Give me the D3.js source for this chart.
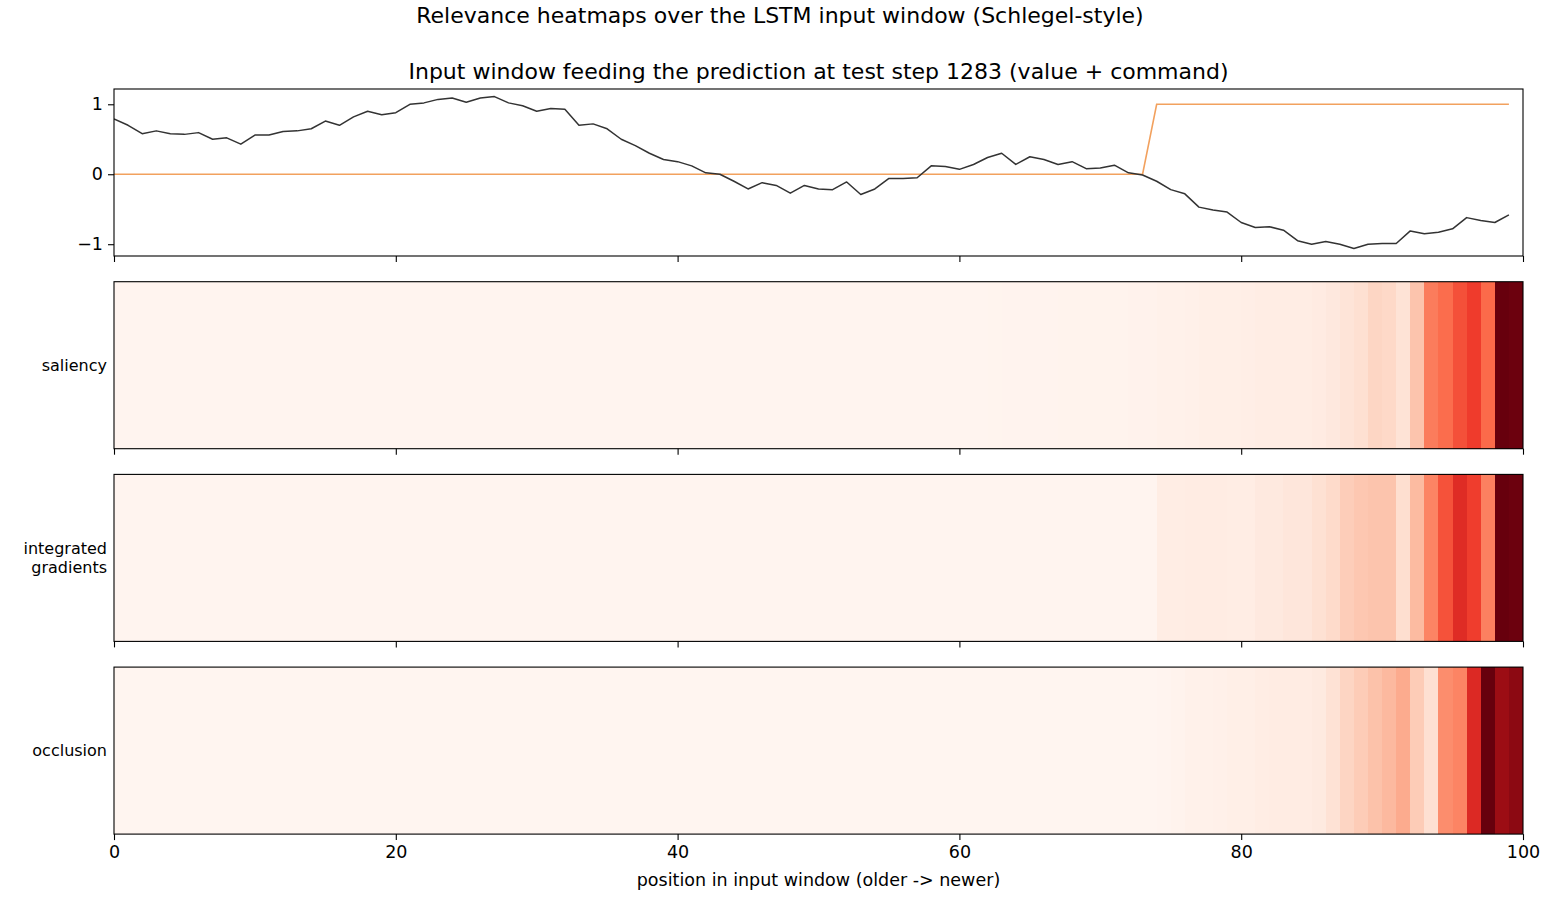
<!DOCTYPE html>
<html>
<head>
<meta charset="utf-8">
<script src="https://cdn.jsdelivr.net/npm/d3@7"></script>
<style>
  html, body { margin: 0; padding: 0; background: #ffffff; }
  text { font-family: "DejaVu Sans", sans-serif; fill: #000; }
</style>
</head>
<body>
<svg id="chart" width="1560" height="910"></svg>
<script>
// ---------------- data ----------------
const positions = d3.range(0, 100); // index labels 0..99 (window positions)
const xTicks = [0, 20, 40, 60, 80, 100];
const yTicksTop = [-1, 0, 1];

const valueSeries = [
  0.79,0.70,0.58,0.62,0.58,0.57,0.595,0.50,0.52,0.43,
  0.56,0.56,0.61,0.62,0.65,0.76,0.70,0.82,0.90,0.85,
  0.88,1.00,1.02,1.07,1.09,1.03,1.09,1.11,1.02,0.98,
  0.90,0.94,0.93,0.70,0.72,0.65,0.50,0.41,0.30,0.21,
  0.18,0.12,0.02,0.00,-0.10,-0.21,-0.12,-0.16,-0.27,-0.16,
  -0.21,-0.22,-0.11,-0.29,-0.21,-0.06,-0.06,-0.05,0.12,0.11,
  0.07,0.14,0.24,0.30,0.14,0.25,0.21,0.14,0.18,0.08,
  0.09,0.13,0.02,-0.01,-0.10,-0.22,-0.28,-0.47,-0.51,-0.54,
  -0.69,-0.76,-0.75,-0.80,-0.95,-1.00,-0.96,-1.00,-1.06,-1.00,
  -0.99,-0.99,-0.81,-0.85,-0.83,-0.78,-0.62,-0.66,-0.69,-0.58
];

const commandSeries = [
  0,0,0,0,0,0,0,0,0,0,
  0,0,0,0,0,0,0,0,0,0,
  0,0,0,0,0,0,0,0,0,0,
  0,0,0,0,0,0,0,0,0,0,
  0,0,0,0,0,0,0,0,0,0,
  0,0,0,0,0,0,0,0,0,0,
  0,0,0,0,0,0,0,0,0,0,
  0,0,0,0,1,1,1,1,1,1,
  1,1,1,1,1,1,1,1,1,1,
  1,1,1,1,1,1,1,1,1,1
];

const saliency = [
  0.003,0.003,0.003,0.003,0.003,0.003,0.003,0.003,0.003,0.003,
  0.003,0.003,0.003,0.003,0.003,0.003,0.003,0.003,0.003,0.003,
  0.003,0.003,0.003,0.003,0.003,0.003,0.003,0.003,0.003,0.003,
  0.004,0.004,0.004,0.004,0.004,0.004,0.004,0.004,0.004,0.004,
  0.004,0.004,0.004,0.004,0.004,0.004,0.004,0.004,0.004,0.004,
  0.005,0.005,0.005,0.005,0.005,0.005,0.005,0.005,0.005,0.005,
  0.006,0.006,0.007,0.009,0.009,0.010,0.010,0.011,0.011,0.012,
  0.012,0.013,0.015,0.018,0.024,0.024,0.030,0.036,0.036,0.038,
  0.040,0.048,0.048,0.048,0.050,0.060,0.077,0.100,0.125,0.160,
  0.150,0.107,0.220,0.445,0.490,0.570,0.625,0.500,1.000,0.990
];

const integratedGradients = [
  0.003,0.003,0.003,0.003,0.003,0.003,0.003,0.003,0.003,0.003,
  0.003,0.003,0.003,0.003,0.003,0.003,0.003,0.003,0.003,0.003,
  0.003,0.003,0.003,0.003,0.003,0.003,0.003,0.003,0.003,0.003,
  0.003,0.003,0.003,0.003,0.003,0.003,0.003,0.003,0.003,0.003,
  0.003,0.003,0.003,0.003,0.003,0.003,0.003,0.003,0.003,0.003,
  0.003,0.003,0.003,0.003,0.003,0.003,0.003,0.003,0.003,0.003,
  0.004,0.004,0.004,0.004,0.004,0.004,0.004,0.004,0.004,0.004,
  0.004,0.004,0.005,0.005,0.048,0.048,0.054,0.054,0.054,0.048,
  0.048,0.071,0.071,0.089,0.089,0.120,0.142,0.189,0.210,0.220,
  0.220,0.130,0.250,0.420,0.565,0.680,0.620,0.430,1.000,0.990
];

const occlusion = [
  0,0,0,0,0,0,0,0,0,0,
  0,0,0,0,0,0,0,0,0,0,
  0,0,0,0,0,0,0,0,0,0,
  0,0,0,0,0,0,0,0,0,0,
  0,0,0,0,0,0,0,0,0,0,
  0,0,0,0,0,0,0,0,0,0,
  0,0,0,0,0,0,0,0,0,0,
  0,0,0,0,0.003,0.012,0.024,0.024,0.030,0.036,
  0.036,0.048,0.054,0.054,0.054,0.065,0.113,0.162,0.194,0.226,
  0.256,0.300,0.194,0.125,0.390,0.420,0.690,1.000,0.893,0.925
];

const methodNames = ["saliency", "integrated\ngradients", "occlusion"];
const titleText = "Relevance heatmaps over the LSTM input window (Schlegel-style)";
const subtitleText = "Input window feeding the prediction at test step 1283 (value + command)";
const xLabelText = "position in input window (older -> newer)";

// ---------------- layout ----------------
const W = 1560, H = 910;
const left = 114, right = 1523;
const panelTop0 = 89, panelH = 167, panelStep = 192.7;
const tickFont = 17.5, rowFont = 16, titleFont = 22;

const svg = d3.select("#chart");
svg.append("rect").attr("width", W).attr("height", H).attr("fill", "#fff");

const x = d3.scaleLinear().domain([0, 100]).range([left, right]);

// Reds colormap (ColorBrewer 9-class, linear segments like matplotlib)
const redsColors = ["#fff5f0","#fee0d2","#fcbba1","#fc9272","#fb6a4a","#ef3b2c","#cb181d","#a50f15","#67000d"];
const color = d3.scaleLinear()
  .domain(d3.range(9).map(i => i / 8))
  .range(redsColors)
  .interpolate(d3.interpolateRgb)
  .clamp(true);

function drawXAxis(g, y0, withLabels) {
  const ax = d3.axisBottom(x).tickValues(xTicks).tickSize(6).tickPadding(5)
    .tickFormat(withLabels ? d3.format("d") : () => "");
  const a = g.append("g").attr("transform", `translate(0,${y0})`).call(ax);
  a.select(".domain").remove();
  a.selectAll(".tick line").attr("stroke", "#000").attr("stroke-width", 1.1);
  a.selectAll(".tick text").attr("font-size", tickFont).attr("fill", "#000")
    .attr("font-family", "DejaVu Sans, sans-serif");
}

function frame(g, y0, h) {
  g.append("rect").attr("x", left).attr("y", y0).attr("width", right - left).attr("height", h)
    .attr("fill", "none").attr("stroke", "#000").attr("stroke-width", 1.1);
}

// ---------------- top panel ----------------
const top0 = panelTop0;
const vmin = d3.min([...valueSeries, ...commandSeries]);
const vmax = d3.max([...valueSeries, ...commandSeries]);
const pad = (vmax - vmin) * 0.05;
const y = d3.scaleLinear().domain([vmin - pad, vmax + pad]).range([top0 + panelH, top0]);

const gTop = svg.append("g");
const clipId = "clipTop";
svg.append("clipPath").attr("id", clipId).append("rect")
  .attr("x", left).attr("y", top0).attr("width", right - left).attr("height", panelH);

const line = d3.line().x((d, i) => x(positions[i])).y(d => y(d));
gTop.append("path").datum(commandSeries).attr("d", line)
  .attr("fill", "none").attr("stroke", "#f2a15e").attr("stroke-width", 1.6)
  .attr("clip-path", `url(#${clipId})`);
gTop.append("path").datum(valueSeries).attr("d", line)
  .attr("fill", "none").attr("stroke", "#333333").attr("stroke-width", 1.5)
  .attr("stroke-linejoin", "round")
  .attr("clip-path", `url(#${clipId})`);

const yAx = d3.axisLeft(y).tickValues(yTicksTop).tickSize(6).tickPadding(5)
  .tickFormat(d => d < 0 ? "\u2212" + Math.abs(d) : String(d));
const ya = gTop.append("g").attr("transform", `translate(${left},0)`).call(yAx);
ya.select(".domain").remove();
ya.selectAll(".tick line").attr("stroke", "#000").attr("stroke-width", 1.1);
ya.selectAll(".tick text").attr("font-size", tickFont).attr("fill", "#000")
  .attr("font-family", "DejaVu Sans, sans-serif");

frame(gTop, top0, panelH);
drawXAxis(gTop, top0 + panelH, false);

gTop.append("text").attr("x", (left + right) / 2).attr("y", 79)
  .attr("text-anchor", "middle").attr("font-size", titleFont).text(subtitleText);

// ---------------- heatmaps ----------------
const heatData = [saliency, integratedGradients, occlusion];
heatData.forEach((vals, k) => {
  const t = panelTop0 + panelStep * (k + 1);
  const g = svg.append("g");
  g.selectAll("rect.cell").data(vals).enter().append("rect")
    .attr("class", "cell")
    .attr("x", (d, i) => x(positions[i]))
    .attr("y", t)
    .attr("width", (d, i) => x(positions[i] + 1) - x(positions[i]) + 0.4)
    .attr("height", panelH)
    .attr("fill", d => color(d))
    .attr("shape-rendering", "crispEdges");
  frame(g, t, panelH);
  drawXAxis(g, t + panelH, k === 2);

  const lines = methodNames[k].split("\n");
  const lh = 19.5;
  const cy = t + panelH / 2;
  const txt = g.append("text").attr("text-anchor", "end").attr("font-size", rowFont);
  lines.forEach((ln, j) => {
    txt.append("tspan").attr("x", 107)
      .attr("y", cy + (j - (lines.length - 1) / 2) * lh + 5.5)
      .text(ln);
  });
});

// ---------------- titles / labels ----------------
svg.append("text").attr("x", W / 2).attr("y", 23).attr("text-anchor", "middle")
  .attr("font-size", titleFont).text(titleText);

svg.append("text").attr("x", (left + right) / 2).attr("y", 886).attr("text-anchor", "middle")
  .attr("font-size", tickFont).text(xLabelText);
</script>
</body>
</html>
